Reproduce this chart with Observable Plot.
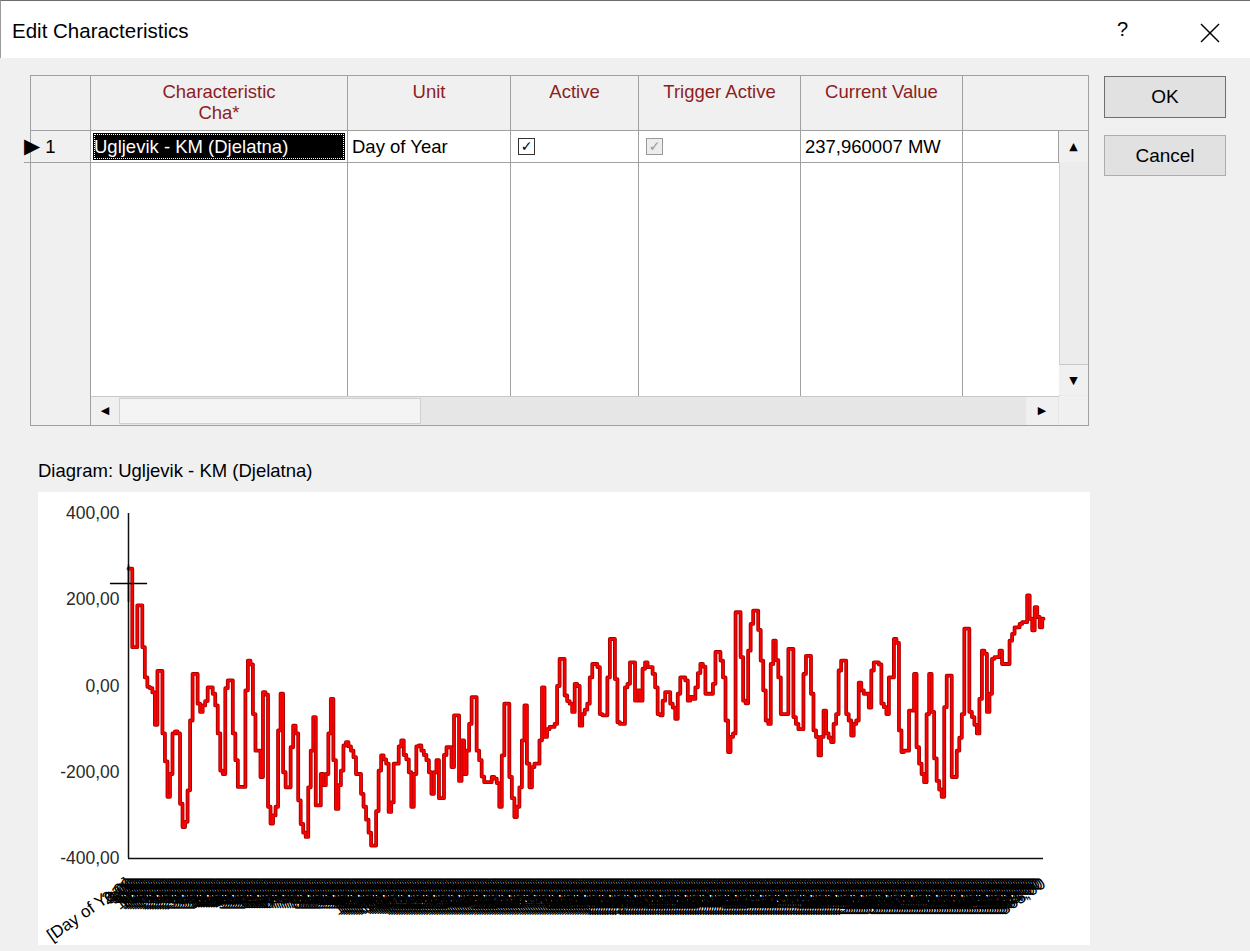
<!DOCTYPE html>
<html><head><meta charset="utf-8">
<script src="https://cdn.jsdelivr.net/npm/d3@7"></script>
<script src="https://cdn.jsdelivr.net/npm/@observablehq/plot@0.6"></script>
<style>
html,body{margin:0;padding:0;}
body{width:1250px;height:951px;position:relative;overflow:hidden;background:#f0f0f0;font-family:"Liberation Sans",Arial,sans-serif;color:#000;}
.a{position:absolute;box-sizing:border-box;}
#titlebar{left:0;top:0;width:1250px;height:58px;background:#fff;border-top:1px solid #6d6d6d;border-left:1px solid #9a9a9a;}
#title{left:12px;top:19px;font-family:"Liberation Sans",Arial,sans-serif;font-size:20.5px;}
#help{left:1117px;top:18px;font-family:"Liberation Sans",sans-serif;font-size:20px;}
.hd{top:76px;height:55px;background:#f0f0f0;border-right:1px solid #a0a0a0;border-bottom:1px solid #a0a0a0;color:#8b1e1e;font-size:18.5px;text-align:center;padding-top:5px;line-height:21px;}
.cell{top:131px;height:32px;background:#fff;border-right:1px solid #a0a0a0;border-bottom:1px solid #a0a0a0;font-size:18.5px;padding:5px 0 0 4px;white-space:nowrap;}
.body{top:163px;height:233px;background:#fff;border-right:1px solid #a0a0a0;}
.btn{left:1104px;width:122px;background:#e1e1e1;border:1px solid #adadad;font-size:19px;text-align:center;}
.chk{width:17px;height:17px;border:1px solid #333;background:#fff;font-size:14px;line-height:15px;text-align:center;font-family:"DejaVu Sans",sans-serif;font-weight:bold;}
.arrow{font-size:11px;text-align:center;font-family:"DejaVu Sans",sans-serif;background:#f0f0f0;}
</style>
</head><body>
<div id="titlebar" class="a"></div>
<div id="title" class="a">Edit Characteristics</div>
<div id="help" class="a">?</div>
<svg class="a" style="left:1199px;top:22px;" width="22" height="22"><line x1="2" y1="2" x2="20" y2="20" stroke="#000" stroke-width="1.4"/><line x1="20" y1="2" x2="2" y2="20" stroke="#000" stroke-width="1.4"/></svg>

<!-- grid frame -->
<div class="a" style="left:30px;top:75px;width:1059px;height:351px;border:1px solid #a0a0a0;background:#f0f0f0;"></div>
<div class="a hd" style="left:31px;width:60px;"></div>
<div class="a hd" style="left:91px;width:257px;">Characteristic<br>Cha*</div>
<div class="a hd" style="left:348px;width:163px;">Unit</div>
<div class="a hd" style="left:511px;width:128px;">Active</div>
<div class="a hd" style="left:639px;width:162px;">Trigger Active</div>
<div class="a hd" style="left:801px;width:162px;">Current Value</div>
<div class="a hd" style="left:963px;width:125px;border-right:none;"></div>

<!-- row 1 -->
<div class="a" style="left:24px;top:131px;width:67px;height:32px;border-right:1px solid #a0a0a0;border-bottom:1px solid #a0a0a0;font-size:18.5px;padding:4px 0 0 0;white-space:nowrap;"><span style="font-size:21px;line-height:22px;">&#9654;</span>&nbsp;1</div>
<div class="a cell" style="left:91px;width:257px;padding:2px;"><div style="background:#000;color:#fff;width:100%;height:100%;padding:3px 0 0 1px;box-sizing:border-box;outline:1px dotted #fff;outline-offset:-2px;">Ugljevik - KM (Djelatna)</div></div>
<div class="a cell" style="left:348px;width:163px;">Day of Year</div>
<div class="a cell" style="left:511px;width:128px;"><div class="a chk" style="left:7px;top:7px;">&#10003;</div></div>
<div class="a cell" style="left:639px;width:162px;"><div class="a chk" style="left:7px;top:7px;border-color:#9a9a9a;color:#9a9a9a;background:#ededed;">&#10003;</div></div>
<div class="a cell" style="left:801px;width:162px;">237,960007 MW</div>
<div class="a cell" style="left:963px;width:96px;"></div>

<!-- body -->
<div class="a" style="left:31px;top:163px;width:60px;height:233px;background:#f0f0f0;border-right:1px solid #a0a0a0;"></div>
<div class="a body" style="left:91px;width:257px;"></div>
<div class="a body" style="left:348px;width:163px;"></div>
<div class="a body" style="left:511px;width:128px;"></div>
<div class="a body" style="left:639px;width:162px;"></div>
<div class="a body" style="left:801px;width:162px;"></div>
<div class="a body" style="left:963px;width:96px;border-right:none;"></div>

<!-- vertical scrollbar -->
<div class="a" style="left:1059px;top:131px;width:29px;height:265px;background:#ececec;border-left:1px solid #d0d0d0;"></div>
<div class="a arrow" style="left:1059px;top:131px;width:29px;height:31px;line-height:31px;">&#9650;</div>
<div class="a arrow" style="left:1059px;top:364px;width:29px;height:31px;line-height:31px;border-top:1px solid #c8c8c8;">&#9660;</div>

<!-- horizontal scrollbar -->
<div class="a" style="left:31px;top:396px;width:60px;height:29px;background:#f0f0f0;border-right:1px solid #a0a0a0;"></div>
<div class="a" style="left:91px;top:396px;width:968px;height:29px;background:#e6e6e6;border-top:1px solid #c8c8c8;"></div>
<div class="a arrow" style="left:91px;top:397px;width:28px;height:28px;line-height:28px;">&#9664;</div>
<div class="a" style="left:119px;top:398px;width:302px;height:26px;background:#f4f4f4;border:1px solid #d0d0d0;"></div>
<div class="a arrow" style="left:1026px;top:397px;width:32px;height:28px;line-height:28px;">&#9654;</div>

<!-- buttons -->
<div class="a btn" style="top:76px;height:42px;line-height:40px;border-color:#6f6f6f;">OK</div>
<div class="a btn" style="top:135px;height:41px;line-height:39px;">Cancel</div>

<div class="a" style="left:38px;top:460px;font-size:18.5px;">Diagram: Ugljevik - KM (Djelatna)</div>
<div id="panel" class="a" style="left:38px;top:492px;width:1052px;height:453px;background:#fff;"></div>

<script>
// ---- data ----
const days = d3.range(1, 366); // day of year, 1..365
const values = [
  272, 272, 90, 90, 187, 187, 90, 20, -2, -5,
  -15, -90, 35, 35, -110, -175, -257, -204, -110, -105,
  -110, -273, -327, -315, -242, -80, 28, 28, -41, -60,
  -45, -35, -3, -3, -18, -45, -110, -196, -204, -5,
  13, 13, -110, -172, -234, -234, -234, -10, 59, 50,
  -65, -150, -150, -211, -14, -20, -280, -319, -300, -280,
  -103, -18, -200, -235, -235, -142, -92, -110, -265, -320,
  -340, -350, -235, -150, -72, -277, -277, -204, -230, -204,
  -110, -30, -172, -285, -230, -196, -138, -130, -140, -150,
  -165, -204, -204, -250, -280, -310, -340, -370, -370, -290,
  -196, -161, -170, -180, -292, -270, -180, -180, -140, -126,
  -160, -170, -200, -280, -204, -140, -138, -150, -160, -172,
  -200, -250, -200, -172, -260, -260, -160, -142, -142, -188,
  -68, -68, -220, -126, -204, -150, -88, -26, -26, -150,
  -172, -210, -223, -223, -223, -211, -215, -225, -280, -161,
  -41, -41, -211, -260, -304, -280, -235, -126, -45, -180,
  -235, -188, -180, -180, -126, -3, -118, -100, -95, -95,
  -88, 0, 63, 63, -22, -35, -41, -60, 5, 0,
  -92, -65, -55, -41, 20, 51, 51, 44, -65, -68,
  -68, 20, 109, 109, 16, -84, -88, -88, -3, 5,
  55, 55, -34, -10, -34, 40, 55, 44, 44, 28,
  -3, -65, -68, -34, -14, -14, -41, -50, -76, -18,
  20, 20, 13, -34, -25, -30, -3, 30, 51, 45,
  -18, -18, -18, 5, 79, 79, 59, 20, -80, -153,
  -118, -110, 171, 171, 67, -34, -40, 82, 144, 175,
  175, 130, 59, -10, -80, -88, 51, 105, 60, 20,
  -65, -65, -65, 86, 86, -72, -88, -100, -100, 28,
  70, 70, -18, -103, -118, -161, -118, -57, -110, -120,
  -130, -88, -65, 36, 59, 59, -65, -80, -115, -88,
  -80, 8, -10, -18, -18, -50, 36, 55, 55, 50,
  -41, -49, -65, 20, 20, 109, 100, -103, -153, -150,
  -150, -57, -57, 28, -142, -180, -204, -223, -65, 28,
  -60, -168, -220, -240, -257, -49, 24, 24, -211, -211,
  -150, -120, -65, 133, 133, -60, -72, -90, -110, -30,
  82, 75, -60, -18, 63, 67, 67, 82, 51, 51,
  51, 105, 121, 136, 136, 144, 148, 148, 210, 156,
  129, 183, 160, 136, 156
];
const yTicks = [-400, -200, 0, 200, 400];
const xFirstLabel = "[Day of Year]";
const currentValue = 237.960007;

const data = days.map((d, i) => ({day: d, value: values[i]}));
const fmt = v => v.toFixed(2).replace(".", ",");

const chart = Plot.plot({
  width: 1052,
  height: 453,
  marginLeft: 90,
  marginRight: 47,
  marginTop: 21,
  marginBottom: 87,
  x: {domain: [days[0], days[days.length - 1]]},
  y: {domain: [yTicks[0], yTicks[yTicks.length - 1]]},
  style: {fontFamily: "'Liberation Sans', Arial, sans-serif", background: "white", color: "#222", overflow: "visible"},
  marks: [
    Plot.axisY({ticks: yTicks, tickFormat: fmt, tickSize: 0, tickPadding: 9, fontSize: 17.5, label: null, fill: "#2a2a2a"}),
    Plot.axisX({ticks: days, tickFormat: d => d === days[0] ? xFirstLabel : fmt(d), tickRotate: -35, tickSize: 0, tickPadding: 23, fontSize: 17, label: null, fill: "#000"}),
    Plot.ruleX([days[0]], {stroke: "#111", strokeWidth: 1.5}),
    Plot.ruleY([yTicks[0]], {stroke: "#111", strokeWidth: 1.5}),
    Plot.line(data, {x: "day", y: "value", curve: "step", stroke: "#a30000", strokeWidth: 3.8}),
    Plot.line(data, {x: "day", y: "value", curve: "step", stroke: "#ff0000", strokeWidth: 2}),
    Plot.dot([{day: days[0], value: currentValue}], {x: "day", y: "value", symbol: "plus", r: 12, stroke: "#000", strokeWidth: 1.5})
  ]
});
document.getElementById("panel").appendChild(chart);
</script>
</body></html>
